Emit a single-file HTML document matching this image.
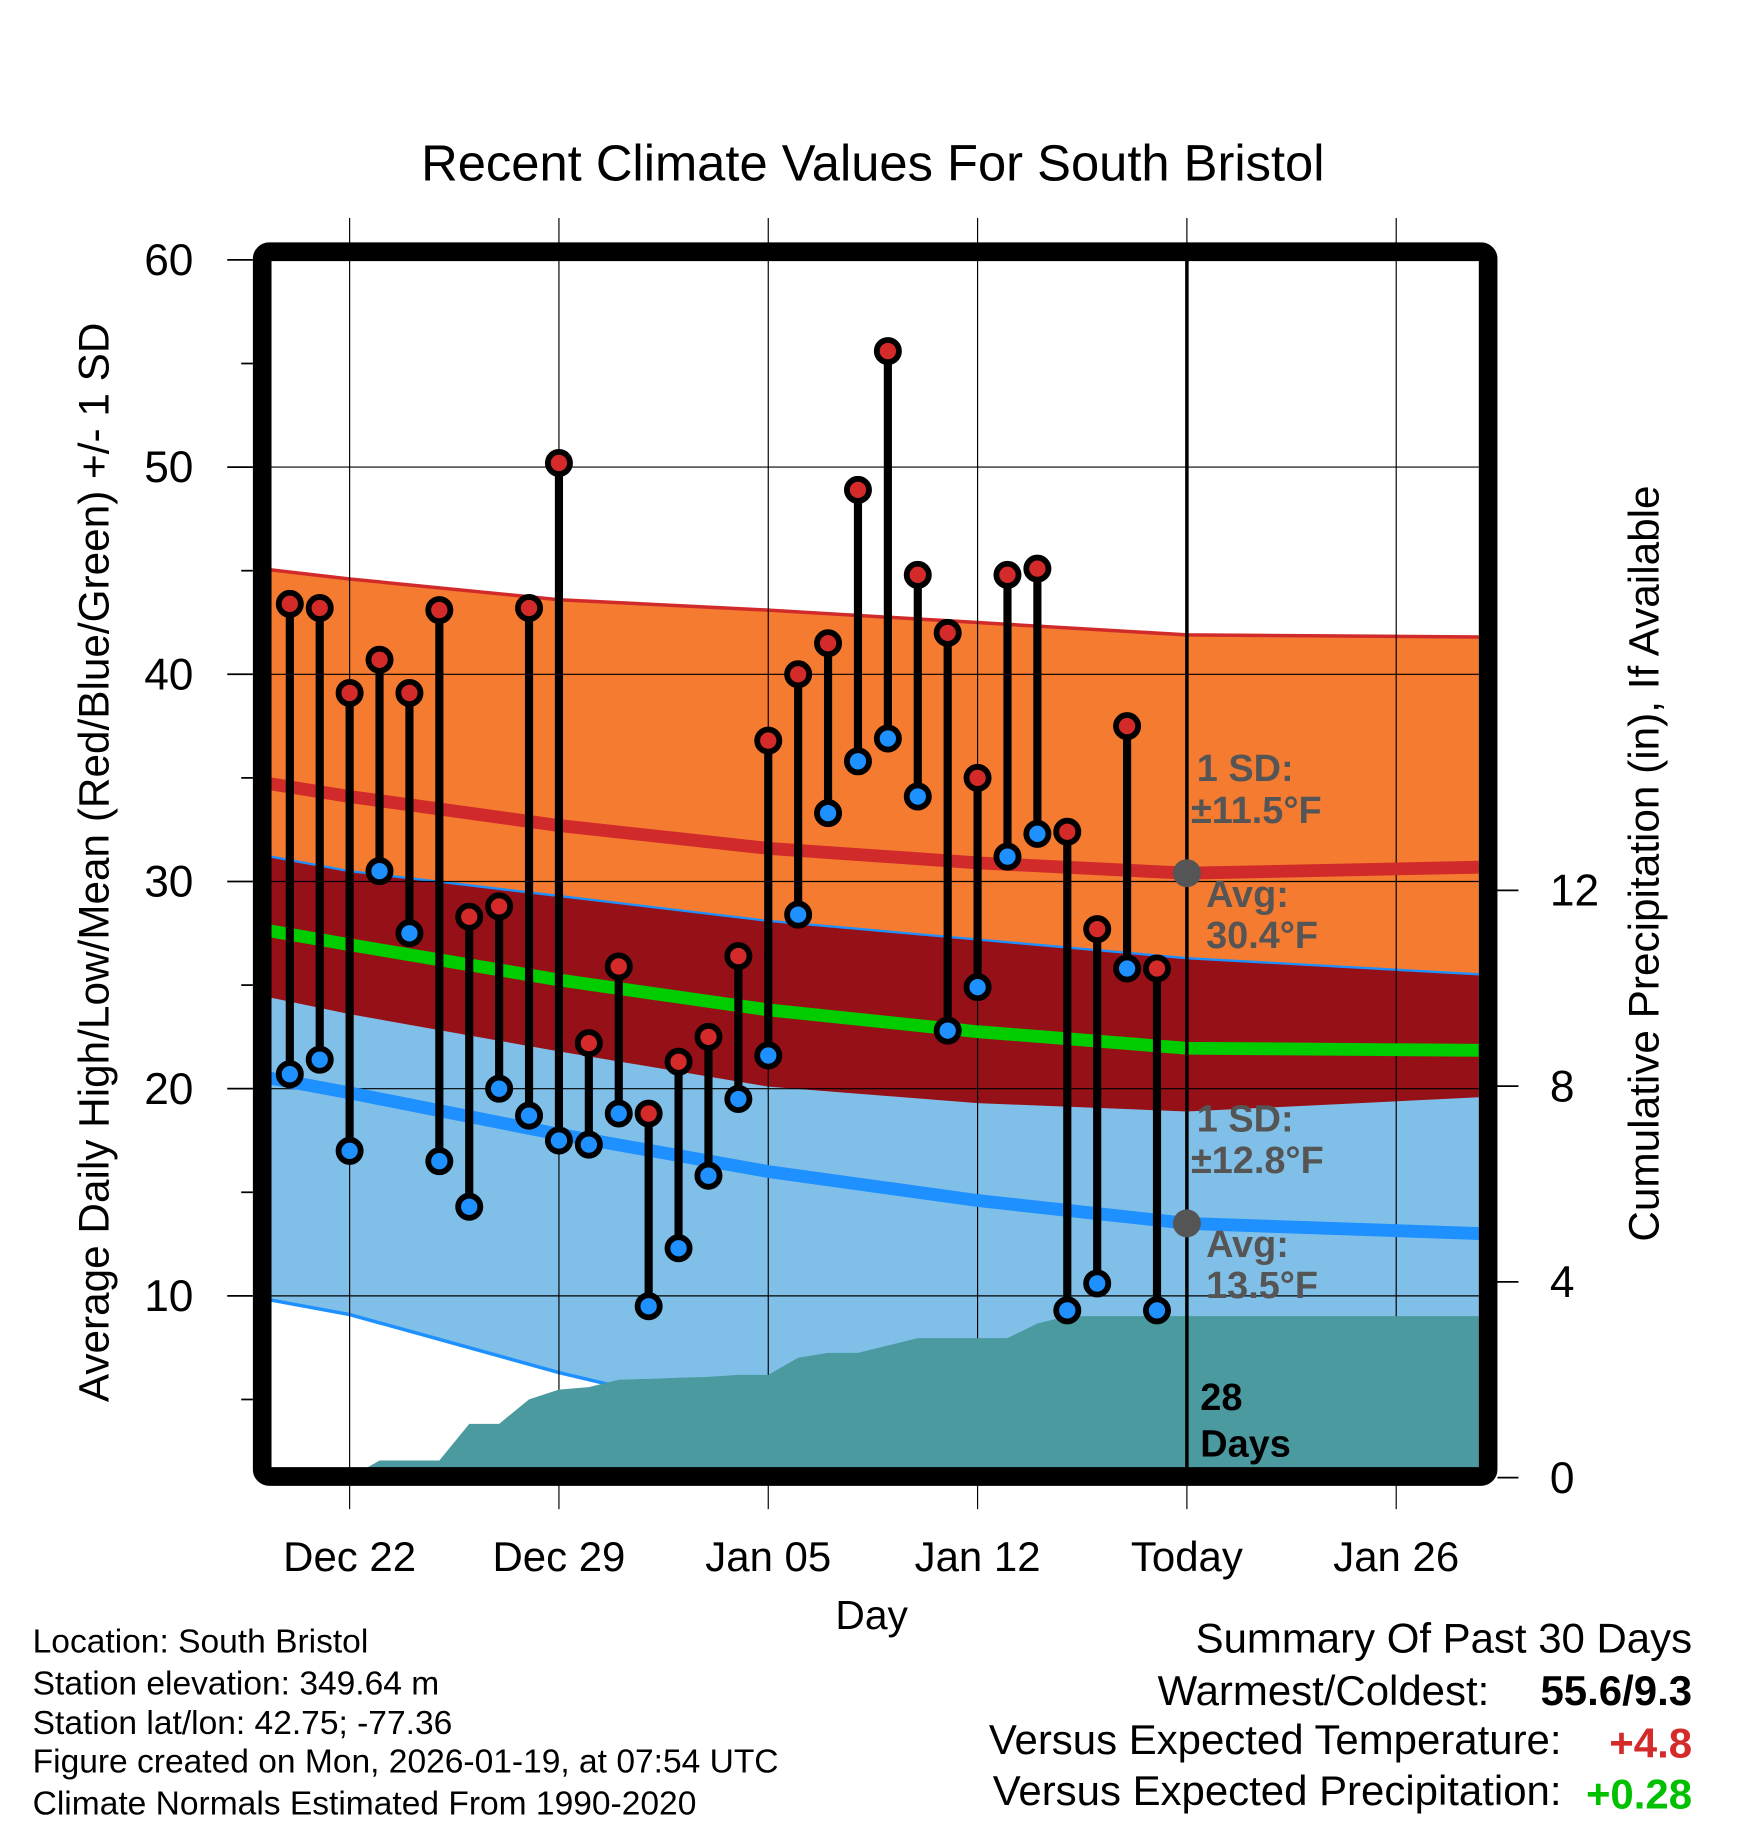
<!DOCTYPE html>
<html><head><meta charset="utf-8"><style>
html,body{margin:0;padding:0;background:#fff}
svg{display:block}
text{font-family:"Liberation Sans",Arial,sans-serif}
</style></head><body>
<svg id="chart" width="1748" height="1828" viewBox="0 0 1500 1568.6" xmlns="http://www.w3.org/2000/svg">
<defs><clipPath id="plotclip"><rect x="232" y="223" width="1037" height="1037"/></clipPath></defs>
<g id="bands" clip-path="url(#plotclip)"></g>
<g id="grid"></g>
<g id="precip" clip-path="url(#plotclip)"></g>
<g id="lines" clip-path="url(#plotclip)"></g>
<g id="marks"></g>
<g id="axes"></g>
<text x="749" y="155" font-size="43.5" text-anchor="middle">Recent Climate Values For South Bristol</text>
<text x="748" y="1398" font-size="35" text-anchor="middle">Day</text>
<text transform="translate(93,740) rotate(-90)" font-size="36.3" text-anchor="middle">Average Daily High/Low/Mean (Red/Blue/Green) +/- 1 SD</text>
<text transform="translate(1423,741) rotate(-90)" font-size="36.3" text-anchor="middle">Cumulative Precipitation (in), If Available</text>
<g font-size="28.8">
<text x="28" y="1418">Location: South Bristol</text>
<text x="28" y="1454">Station elevation: 349.64 m</text>
<text x="28" y="1488">Station lat/lon: 42.75; -77.36</text>
<text x="28" y="1521">Figure created on Mon, 2026-01-19, at 07:54 UTC</text>
<text x="28" y="1557">Climate Normals Estimated From 1990-2020</text>
</g>
<g font-size="36">
<text x="1452" y="1418" text-anchor="end">Summary Of Past 30 Days</text>
<text x="1278" y="1463" text-anchor="end">Warmest/Coldest:</text>
<text x="1452" y="1463" text-anchor="end" font-weight="bold">55.6/9.3</text>
<text x="1340" y="1505" text-anchor="end">Versus Expected Temperature:</text>
<text x="1452" y="1508" text-anchor="end" font-weight="bold" fill="#d42a2a">+4.8</text>
<text x="1340" y="1549" text-anchor="end">Versus Expected Precipitation:</text>
<text x="1452" y="1552" text-anchor="end" font-weight="bold" fill="#00c000">+0.28</text>
</g>
</svg>
<script>
// Daily observations, Dec 20 .. Jan 18 (day index 0..29)
const highs = [43.4,43.2,39.1,40.7,39.1,43.1,28.3,28.8,43.2,50.2,22.2,25.9,18.8,21.3,22.5,26.4,36.8,40.0,41.5,48.9,55.6,44.8,42.0,35.0,44.8,45.1,32.4,27.7,37.5,25.8];
const lows  = [20.7,21.4,17.0,30.5,27.5,16.5,14.3,20.0,18.7,17.5,17.3,18.8,9.5,12.3,15.8,19.5,21.6,28.4,33.3,35.8,36.9,34.1,22.8,24.9,31.2,32.3,9.3,10.6,25.8,9.3];
const precip = [0,0,0,0.35,0.35,0.35,1.1,1.1,1.6,1.8,1.85,2.0,2.02,2.04,2.06,2.1,2.1,2.45,2.55,2.55,2.7,2.85,2.85,2.85,2.85,3.15,3.3,3.3,3.3,3.3];
// Climate normals at key days
const normDays = [-1,2,9,16,23,30,40];
const normHigh = [34.8,34.1,32.7,31.6,30.9,30.4,30.7];
const sdHigh   = [10.3,10.5,10.9,11.5,11.6,11.5,11.1];
const normLow  = [20.6,19.8,17.8,16.0,14.6,13.5,13.0];
const sdLow    = [10.7,10.7,11.5,12.1,12.6,12.8,12.5];
const yTicks = [60,50,40,30,20,10];
const y2Ticks = [0,4,8,12];
const xTickLabels = ["Dec 22","Dec 29","Jan 05","Jan 12","Today","Jan 26"];
const xTickDays = [2,9,16,23,30,37];

const NS="http://www.w3.org/2000/svg";
const X = d => 248.7 + 25.66*d;
const Y = t => 223 + (60 - t)*17.78;
const Y2 = p => 1268 - 42*p;
function el(tag, attrs, parent){const e=document.createElementNS(NS,tag);for(const k in attrs)e.setAttribute(k,attrs[k]);parent.appendChild(e);return e;}
function pts(arr){return normDays.map((d,i)=>X(d).toFixed(1)+","+Y(arr[i]).toFixed(1));}
function comb(a,b,s){return a.map((v,i)=>v+s*b[i]);}
const hTop=comb(normHigh,sdHigh,1), hBot=comb(normHigh,sdHigh,-1);
const lTop=comb(normLow,sdLow,1), lBot=comb(normLow,sdLow,-1);
const mean=normHigh.map((v,i)=>(v+normLow[i])/2);
function band(top,bot,fill,name,g){const p=pts(top).concat(pts(bot).reverse());const e=el('polygon',{points:p.join(' '),fill:fill},g);

}
const bands=document.getElementById('bands');
band(hTop,hBot,'#f47b30','high-sd-band',bands);
band(lTop,lBot,'#80c0e8','low-sd-band',bands);
band(lTop,hBot,'#961018','overlap-band',bands);
const topLine=el('polyline',{points:pts(hTop).join(' '),fill:'none',stroke:'#d12a2a','stroke-width':3},bands);


const ltl=el('polyline',{points:pts(lTop).join(' '),fill:'none',stroke:'#1e90ff','stroke-width':2},bands);


const lbl=el('polyline',{points:pts(lBot).join(' '),fill:'none',stroke:'#1e90ff','stroke-width':3},bands);



// grid
const grid=document.getElementById('grid');
yTicks.forEach(t=>{if(t<60){const l=el('line',{x1:232,x2:1269,y1:Y(t),y2:Y(t),stroke:'#000','stroke-width':1},grid);

}});
xTickDays.forEach(d=>{const l=el('line',{x1:X(d),x2:X(d),y1:187,y2:1295,stroke:'#000','stroke-width':1},grid);

});

// precip
const pg=document.getElementById('precip');
let pp=[X(0)+","+Y2(0)];
precip.forEach((v,i)=>pp.push(X(i).toFixed(1)+","+Y2(v).toFixed(1)));
pp.push("1270,"+Y2(precip[precip.length-1]));pp.push("1270,"+Y2(0));
const pa=el('polygon',{points:pp.join(' '),fill:'#4a9aa0'},pg);



// normal lines
const lg=document.getElementById('lines');
[[normHigh,'#d12a2a','normal-high-line'],[mean,'#00cc00','normal-mean-line'],[normLow,'#1e90ff','normal-low-line']].forEach(([a,c,n])=>{
const l=el('polyline',{points:pts(a).join(' '),fill:'none',stroke:c,'stroke-width':11},lg);

});
// today line
const tl=el('line',{x1:X(30),x2:X(30),y1:223,y2:1262,stroke:'#000','stroke-width':3},lg);



// annotations
const ag=document.getElementById('axes');
function txt(x,y,s,attrs,name){const t=el('text',Object.assign({x:x,y:y},attrs),ag);t.textContent=s;

return t;}
const gray={'font-size':32.5,'font-weight':'bold',fill:'#555'};
[[normHigh[5],sdHigh[5],'high'],[normLow[5],sdLow[5],'low']].forEach(([n,s,k])=>{
 const yy=Y(n);
 const c=el('circle',{cx:X(30),cy:yy,r:12,fill:'#555'},ag);
 
 
 txt(1027,yy-79,'1 SD:',gray,k+'-sd-label');
 txt(1022,yy-43,'±'+s.toFixed(1)+'°F',gray,k+'-sd-value');
 txt(1035,yy+29,'Avg:',gray,k+'-avg-label');
 txt(1035,yy+64,n.toFixed(1)+'°F',gray,k+'-avg-value');
});
txt(1030,1210,'28',{'font-size':32.5,'font-weight':'bold'},'days-count');
txt(1030,1250,'Days',{'font-size':32.5,'font-weight':'bold'},'days-label');

// markers
const mg=document.getElementById('marks');
highs.forEach((h,i)=>{
 const s=el('line',{x1:X(i),x2:X(i),y1:Y(h),y2:Y(lows[i]),stroke:'#000','stroke-width':7},mg);
 
 
});
highs.forEach((h,i)=>{
 const a=el('circle',{cx:X(i),cy:Y(h),r:9.5,fill:'#d42a2a',stroke:'#000','stroke-width':5},mg);
 
 
 const b=el('circle',{cx:X(i),cy:Y(lows[i]),r:9.5,fill:'#1e90ff',stroke:'#000','stroke-width':5},mg);
 
 
});

// frame and ticks
const fr=el('rect',{x:225,y:216,width:1052,height:1051,rx:6,fill:'none',stroke:'#000','stroke-width':16},ag);


for(let t=5;t<=60;t+=5){
 const major=t%10===0;
 const l=el('line',{x1:major?195:207,x2:217,y1:Y(t),y2:Y(t),stroke:'#000','stroke-width':1.5},ag);
 
 
}
yTicks.forEach(t=>txt(166,Y(t)+13,String(t),{'font-size':38,'text-anchor':'end'},'y-tick-label'));
y2Ticks.forEach(p=>{
 const l=el('line',{x1:1285,x2:1303,y1:Y2(p),y2:Y2(p),stroke:'#000','stroke-width':1.5},ag);
 
 
 txt(1330,Y2(p)+13,String(p),{'font-size':38},'y2-tick-label');
});
xTickDays.forEach((d,i)=>txt(X(d),1348,xTickLabels[i],{'font-size':36,'text-anchor':'middle'},'x-tick-label'));
</script>
</body></html>
